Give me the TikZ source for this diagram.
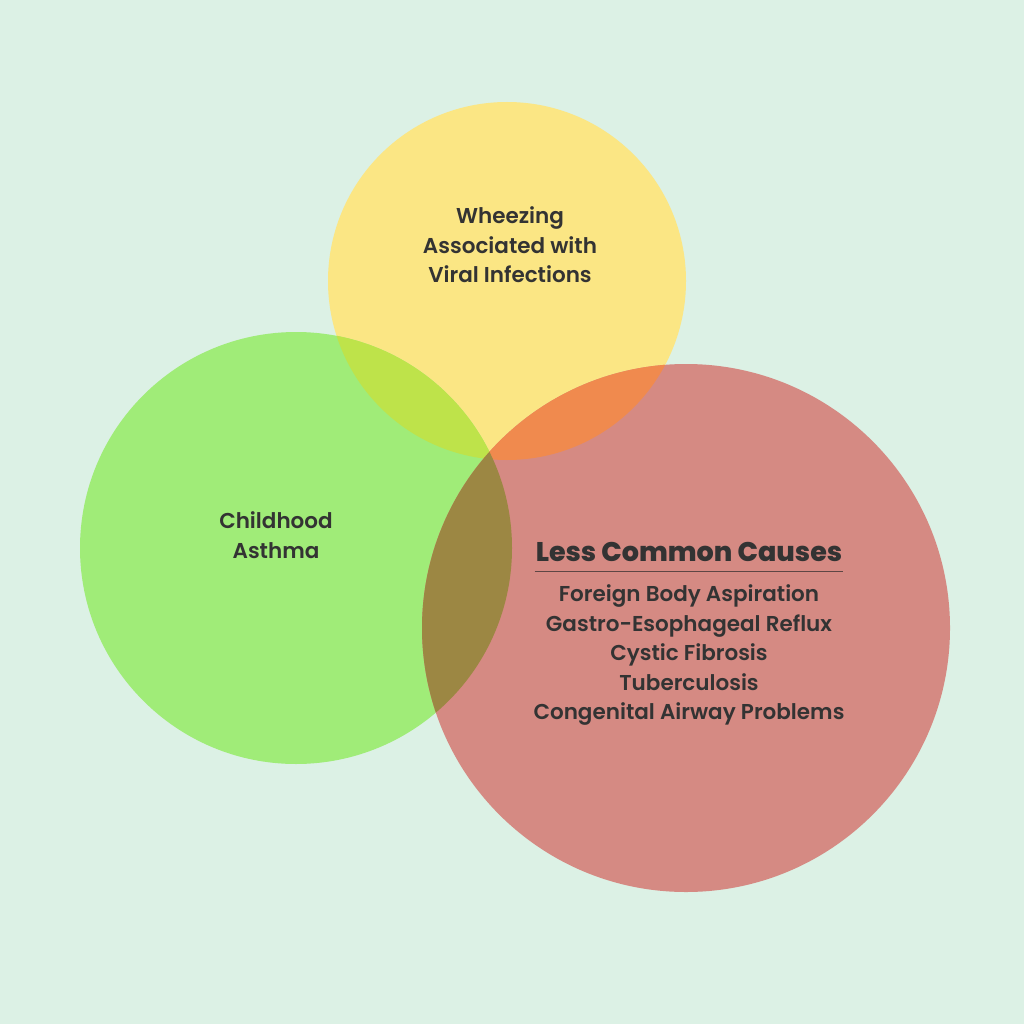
\documentclass[tikz,border=0pt]{standalone}
\usepackage{fontspec}
\setmainfont{Poppins}
\newfontfamily\medfont{Poppins SemiBold}
\newfontfamily\headfont{Poppins ExtraBold}
\definecolor{bgmint}{HTML}{DCF1E5}
\definecolor{wheezeyellow}{HTML}{FBE684}
\definecolor{asthmagreen}{HTML}{A0EC78}
\definecolor{causered}{HTML}{D58A83}
\definecolor{overlapyg}{HTML}{BEE34A}
\definecolor{overlapyr}{HTML}{F08A4E}
\definecolor{overlapgr}{HTML}{9C8743}
\definecolor{textgray}{HTML}{333333}
\definecolor{rulegray}{HTML}{5E4644}
\begin{document}
\begin{tikzpicture}[x=1pt,y=-1pt,
    label text/.style={font=\medfont\fontsize{21.5}{29.5}\selectfont, text=textgray, align=center},
    heading/.style={font=\headfont\fontsize{27}{30}\selectfont, text=textgray, inner xsep=1pt}]

    \fill[bgmint] (0,0) rectangle (1024,1024);

    % circles
    \fill[wheezeyellow] (507,281) circle (179pt);
    \fill[asthmagreen] (296,548) circle (216pt);
    \fill[causered] (686,628) circle (264pt);

    % overlaps
    \begin{scope}
        \clip (507,281) circle (179pt);
        \fill[overlapyg] (296,548) circle (216pt);
        \fill[overlapyr] (686,628) circle (264pt);
    \end{scope}
    \begin{scope}
        \clip (296,548) circle (216pt);
        \fill[overlapgr] (686,628) circle (264pt);
    \end{scope}

    \node[label text](wheezing) at (510,245){Wheezing\\Associated with\\Viral Infections};
    \node[label text](asthma) at (276,535){Childhood\\Asthma};
    \node[heading](causes) at (689,552){Less Common Causes};
    \draw[rulegray, line width=1.2pt] ([yshift=-6pt]causes.south west) -- ([yshift=-6pt]causes.south east);
    \node[label text](causelist) at (689,655){Foreign Body Aspiration\\Gastro-Esophageal Reflux\\Cystic Fibrosis\\Tuberculosis\\Congenital Airway Problems};
\end{tikzpicture}
\end{document}
